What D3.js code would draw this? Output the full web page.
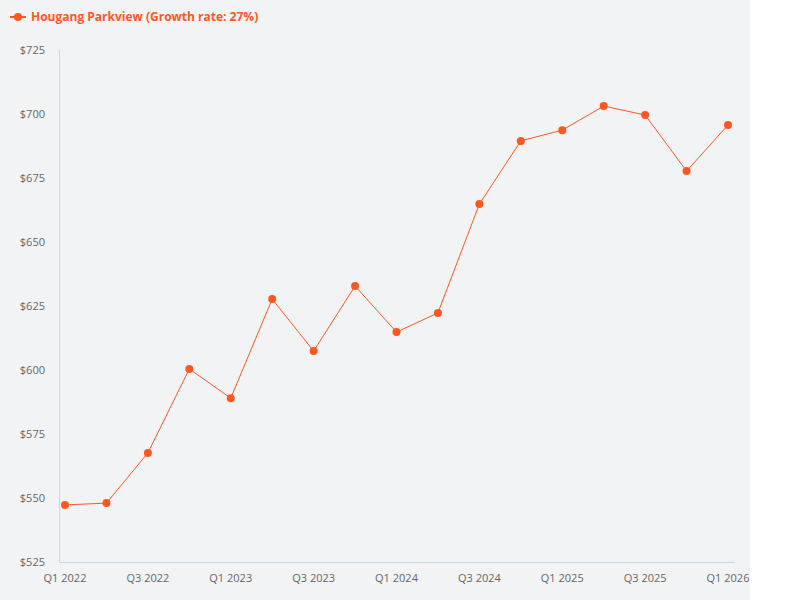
<!DOCTYPE html>
<html><head><meta charset="utf-8">
<script src="https://cdn.jsdelivr.net/npm/d3@7"></script>
<style>body{margin:0;background:#fff;font-family:"Open Sans",sans-serif;}</style>
</head><body><svg id="c" width="800" height="600"></svg>
<script>
const quarters=["Q1 2022","Q2 2022","Q3 2022","Q4 2022","Q1 2023","Q2 2023","Q3 2023","Q4 2023","Q1 2024","Q2 2024","Q3 2024","Q4 2024","Q1 2025","Q2 2025","Q3 2025","Q4 2025","Q1 2026"];
const values=[547.3,548,567.6,600.4,589,627.7,607.4,632.8,614.8,622.3,664.8,689.5,693.7,703.1,699.6,677.7,695.7];
const yTicks=[525,550,575,600,625,650,675,700,725];
const seriesName="Hougang Parkview (Growth rate: 27%)";
const color="#ff5722";
const svg=d3.select("#c");
svg.append("rect").attr("x",0).attr("y",0).attr("width",750).attr("height",600).attr("fill","#f2f3f5");
const x=d3.scalePoint().domain(quarters).range([65,728]);
const y=d3.scaleLinear().domain([525,725]).range([562,50]);
svg.append("line").attr("x1",59.5).attr("x2",59.5).attr("y1",50).attr("y2",562).attr("stroke","#c9d6e6");
svg.append("line").attr("x1",59.5).attr("x2",735).attr("y1",562.5).attr("y2",562.5).attr("stroke","#c9d6e6");
svg.selectAll(".yt").data(yTicks).join("text").attr("x",45).attr("y",d=>y(d)+4).attr("text-anchor","end")
 .attr("font-size",11).attr("fill","#666").text(d=>"$"+d);
svg.selectAll(".xt").data(quarters.filter((d,i)=>i%2===0)).join("text").attr("x",d=>x(d)).attr("y",582)
 .attr("text-anchor","middle").attr("font-size",11).attr("fill","#666").text(d=>d);
svg.append("path").datum(values).attr("fill","none").attr("stroke",color).attr("stroke-width",1)
 .attr("d",d3.line().x((d,i)=>x(quarters[i])).y(d=>y(d)));
svg.selectAll(".pt").data(values).join("circle").attr("cx",(d,i)=>x(quarters[i])).attr("cy",d=>y(d)).attr("r",4).attr("fill",color);
svg.append("line").attr("x1",10).attr("x2",26).attr("y1",17).attr("y2",17).attr("stroke",color).attr("stroke-width",2);
svg.append("circle").attr("cx",18).attr("cy",17).attr("r",4).attr("fill",color);
svg.append("text").attr("x",31).attr("y",21).attr("font-size",12).attr("font-weight","bold").attr("fill",color).text(seriesName);
</script></body></html>
